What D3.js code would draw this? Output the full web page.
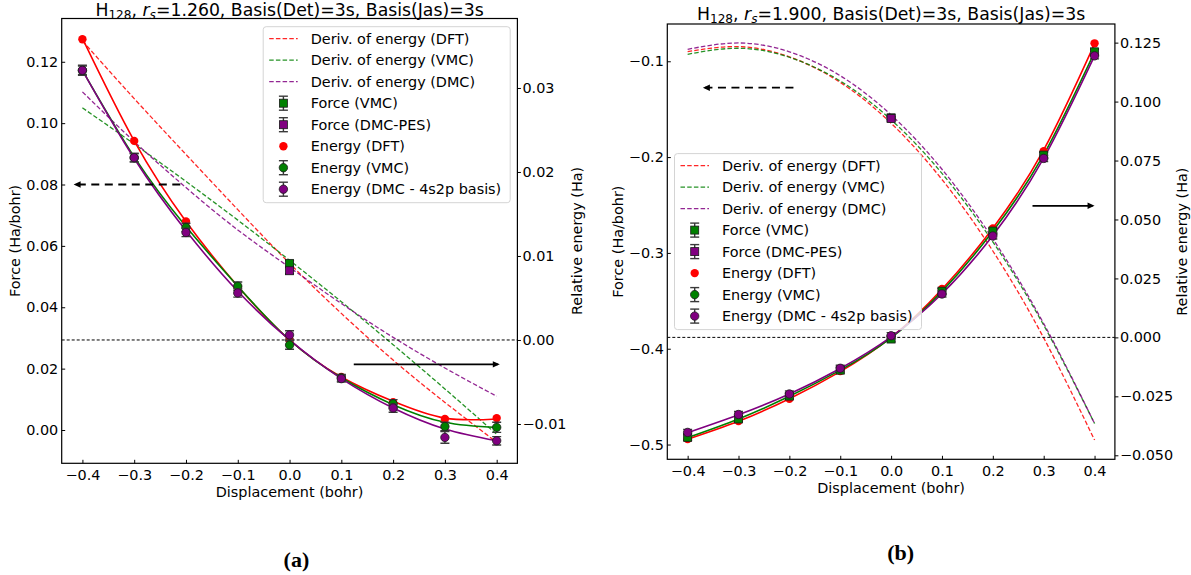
<!DOCTYPE html>
<html>
<head>
<meta charset="utf-8">
<script src="https://cdn.jsdelivr.net/npm/d3@7"></script>
<style>
  body { margin: 0; background: #fff; }
  svg { display: block; font-family: "DejaVu Sans", sans-serif; }
</style>
</head>
<body>
<svg id="fig" width="1191" height="575"></svg>
<script>
// displacement grid shared by both panels (bohr)
var displacement = [-0.4, -0.3, -0.2, -0.1, 0.0, 0.1, 0.2, 0.3, 0.4];
var xTicks = [-0.4, -0.3, -0.2, -0.1, 0.0, 0.1, 0.2, 0.3, 0.4];

var legendLabels = [
  "Deriv. of energy (DFT)", "Deriv. of energy (VMC)", "Deriv. of energy (DMC)",
  "Force (VMC)", "Force (DMC-PES)",
  "Energy (DFT)", "Energy (VMC)", "Energy (DMC - 4s2p basis)"
];

// ---- panel (a), rs = 1.260 ----
var aForceTicks = [0.00, 0.02, 0.04, 0.06, 0.08, 0.10, 0.12];
var aEnergyTicks = [-0.01, 0.00, 0.01, 0.02, 0.03];

var aEnergyDFT = [0.0358, 0.0237, 0.0141, 0.0063, 0.0000, -0.0044, -0.0074, -0.0094, -0.0093];
var aEnergyVMC = [0.0321, 0.0217, 0.0134, 0.0064, -0.0006, -0.0045, -0.0076, -0.0103, -0.0104];
var aEnergyVMCErr = [0.0005, 0.0005, 0.0005, 0.0005, 0.0005, 0.0004, 0.0005, 0.0005, 0.0006];
var aEnergyDMC = [0.0321, 0.0217, 0.0128, 0.0056, 0.0006, -0.0046, -0.0081, -0.0116, -0.0120];
var aEnergyDMCErr = [0.0006, 0.0005, 0.0005, 0.0005, 0.0005, 0.0004, 0.0005, 0.0007, 0.0005];

var aFitDFT = [0.0359, 0.0237, 0.0141, 0.0064, 0.0000, -0.0044, -0.0073, -0.0093, -0.0094];
var aFitVMC = [0.0321, 0.0218, 0.0135, 0.0064, 0.0000, -0.0045, -0.0077, -0.0098, -0.0104];
var aFitDMC = [0.0321, 0.0216, 0.0130, 0.0058, 0.0000, -0.0046, -0.0081, -0.0106, -0.0120];

var aDerivDFT = [0.1268, 0.1080, 0.0898, 0.0718, 0.0543, 0.0380, 0.0228, 0.0090, -0.0040];
var aDerivVMC = [0.1050, 0.0932, 0.0810, 0.0684, 0.0553, 0.0418, 0.0278, 0.0134, -0.0014];
var aDerivDMC = [0.1102, 0.0940, 0.0790, 0.0652, 0.0530, 0.0412, 0.0302, 0.0202, 0.0110];

var aForceX = [0.0];
var aForceVMC = [0.0543];
var aForceVMCErr = [0.0009];
var aForceDMC = [0.0519];
var aForceDMCErr = [0.0010];

// ---- panel (b), rs = 1.900 ----
var bForceTicks = [-0.5, -0.4, -0.3, -0.2, -0.1];
var bEnergyTicks = [-0.050, -0.025, 0.000, 0.025, 0.050, 0.075, 0.100, 0.125];

var bEnergyDFT = [-0.0431, -0.0355, -0.0260, -0.0143, 0.0000, 0.0205, 0.0462, 0.0790, 0.1247];
var bEnergyVMC = [-0.0424, -0.0346, -0.0249, -0.0139, -0.0007, 0.0196, 0.0451, 0.0773, 0.1211];
var bEnergyVMCErr = [0.0012, 0.0012, 0.0012, 0.0012, 0.0012, 0.0012, 0.0012, 0.0012, 0.0012];
var bEnergyDMC = [-0.0403, -0.0327, -0.0240, -0.0131, 0.0007, 0.0184, 0.0430, 0.0759, 0.1194];
var bEnergyDMCErr = [0.0013, 0.0013, 0.0013, 0.0013, 0.0013, 0.0013, 0.0013, 0.0013, 0.0013];

var bFitDFT = [-0.0432, -0.0356, -0.0260, -0.0145, 0.0000, 0.0204, 0.0463, 0.0795, 0.1245];
var bFitVMC = [-0.0425, -0.0346, -0.0250, -0.0139, -0.0002, 0.0195, 0.0450, 0.0775, 0.1210];
var bFitDMC = [-0.0404, -0.0328, -0.0240, -0.0132, 0.0002, 0.0185, 0.0432, 0.0760, 0.1194];

var bDerivDFT = [-0.0900, -0.0847, -0.0954, -0.1220, -0.1647, -0.2234, -0.2980, -0.3887, -0.4953];
var bDerivVMC = [-0.0927, -0.0864, -0.0958, -0.1206, -0.1610, -0.2170, -0.2884, -0.3754, -0.4780];
var bDerivDMC = [-0.0875, -0.0809, -0.0901, -0.1151, -0.1560, -0.2127, -0.2853, -0.3737, -0.4780];

var bForceX = [0.0];
var bForceVMC = [-0.1590];
var bForceVMCErr = [0.0012];
var bForceDMC = [-0.1597];
var bForceDMCErr = [0.0012];

var fig = d3.select("#fig");
var colors = {dft: "#ff0000", vmc: "#008000", dmc: "#800080"};
var fontSize = 14.4;

var drawMarker = function(sel, shape, cx, cy, color, edge) {
  if (shape === "square") {
    sel.append("rect")
      .attr("x", cx - 4)
      .attr("y", cy - 4)
      .attr("width", 8)
      .attr("height", 8)
      .attr("fill", color)
      .attr("stroke", edge ? "#1a1a1a" : "none")
      .attr("stroke-width", 0.8);
  } else {
    sel.append("circle")
      .attr("cx", cx)
      .attr("cy", cy)
      .attr("r", 4.2)
      .attr("fill", color)
      .attr("stroke", edge ? "#1a1a1a" : "none")
      .attr("stroke-width", 0.8);
  }
};

var drawErrorBar = function(sel, cx, y0, y1) {
  var eb = sel.append("g")
    .attr("stroke", "#3a3a3a")
    .attr("stroke-width", 1.4);
  eb.append("line").attr("x1", cx).attr("x2", cx).attr("y1", y0).attr("y2", y1);
  eb.append("line").attr("x1", cx - 4.5).attr("x2", cx + 4.5).attr("y1", y0).attr("y2", y0);
  eb.append("line").attr("x1", cx - 4.5).attr("x2", cx + 4.5).attr("y1", y1).attr("y2", y1);
};

var drawArrow = function(sel, x0, x1, y, dashed) {
  var dir = x1 > x0 ? 1 : -1;
  sel.append("line")
    .attr("x1", x0)
    .attr("x2", x1 - dir * 2)
    .attr("y1", y)
    .attr("y2", y)
    .attr("stroke", "#000")
    .attr("stroke-width", 1.8)
    .attr("stroke-dasharray", dashed ? "8,5.5" : null);
  sel.append("path")
    .attr("d", "M" + x1 + "," + y + "L" + (x1 - dir * 7) + "," + (y - 3.2) + "L" + (x1 - dir * 7) + "," + (y + 3.2) + "Z")
    .attr("fill", "#000");
};

var drawPanel = function(sett) {
  var b = sett.box,
    g = fig.append("g").attr("class", "panel panel-" + sett.id),
    x = d3.scaleLinear().domain([-0.44, 0.44]).range([b.left, b.right]),
    yF = d3.scaleLinear().domain(sett.forceDomain).range([b.bottom, b.top]),
    yE = d3.scaleLinear().domain(sett.energyDomain).range([b.bottom, b.top]),
    clipId = "clip-" + sett.id,
    plot, derivLine, fitLine, legend, entries;

  g.append("clipPath")
    .attr("id", clipId)
    .append("rect")
      .attr("x", b.left)
      .attr("y", b.top)
      .attr("width", b.right - b.left)
      .attr("height", b.bottom - b.top);

  plot = g.append("g").attr("clip-path", "url(#" + clipId + ")");

  // force axis: derivatives of the fitted energies
  derivLine = d3.line()
    .x(function(d, i) { return x(displacement[i]); })
    .y(function(d) { return yF(d); })
    .curve(d3.curveNatural);

  sett.deriv.forEach(function(s) {
    plot.append("path")
      .attr("d", derivLine(s.values))
      .attr("fill", "none")
      .attr("stroke", s.color)
      .attr("stroke-opacity", 0.85)
      .attr("stroke-width", 1.3)
      .attr("stroke-dasharray", "4.5,2.2");
  });

  sett.force.forEach(function(s) {
    s.values.forEach(function(v, i) {
      var cx = x(s.x[i]);
      drawErrorBar(plot, cx, yF(v - s.err[i]), yF(v + s.err[i]));
      drawMarker(plot, "square", cx, yF(v), s.color, true);
    });
  });

  drawArrow(g, x(sett.arrowLeft.from), x(sett.arrowLeft.to), yF(sett.arrowLeft.y), true);

  // energy axis: zero line, fits, points
  plot.append("line")
    .attr("x1", b.left)
    .attr("x2", b.right)
    .attr("y1", yE(0))
    .attr("y2", yE(0))
    .attr("stroke", "#000")
    .attr("stroke-width", 1)
    .attr("stroke-dasharray", "3,2");

  fitLine = d3.line()
    .x(function(d, i) { return x(displacement[i]); })
    .y(function(d) { return yE(d); })
    .curve(d3.curveNatural);

  sett.fits.forEach(function(s) {
    plot.append("path")
      .attr("d", fitLine(s.values))
      .attr("fill", "none")
      .attr("stroke", s.color)
      .attr("stroke-width", 1.6);
  });

  sett.energy.forEach(function(s) {
    s.values.forEach(function(v, i) {
      var cx = x(displacement[i]);
      if (s.err) {
        drawErrorBar(plot, cx, yE(v - s.err[i]), yE(v + s.err[i]));
      }
      drawMarker(plot, s.shape, cx, yE(v), s.color, !!s.err);
    });
  });

  drawArrow(g, x(sett.arrowRight.from), x(sett.arrowRight.to), yE(sett.arrowRight.y), false);

  // axes
  g.append("g")
    .attr("transform", "translate(" + b.left + ",0)")
    .call(d3.axisLeft(yF)
      .tickValues(sett.forceTicks)
      .tickFormat(d3.format(sett.forceFormat))
      .tickSizeInner(-3.5)
      .tickSizeOuter(0)
      .tickPadding(3.5))
    .attr("font-size", fontSize)
    .attr("font-family", "DejaVu Sans")
    .call(function(a) { a.select(".domain").remove(); });

  g.append("g")
    .attr("transform", "translate(" + b.right + ",0)")
    .call(d3.axisRight(yE)
      .tickValues(sett.energyTicks)
      .tickFormat(d3.format(sett.energyFormat))
      .tickSizeInner(3.5)
      .tickSizeOuter(0)
      .tickPadding(1.5))
    .attr("font-size", fontSize)
    .attr("font-family", "DejaVu Sans")
    .call(function(a) { a.select(".domain").remove(); });

  g.append("g")
    .attr("transform", "translate(0," + b.bottom + ")")
    .call(d3.axisBottom(x)
      .tickValues(xTicks)
      .tickFormat(d3.format(".1f"))
      .tickSizeInner(-3.5)
      .tickSizeOuter(0)
      .tickPadding(6))
    .attr("font-size", fontSize)
    .attr("font-family", "DejaVu Sans")
    .call(function(a) { a.select(".domain").remove(); });

  g.append("rect")
    .attr("x", b.left)
    .attr("y", b.top)
    .attr("width", b.right - b.left)
    .attr("height", b.bottom - b.top)
    .attr("fill", "none")
    .attr("stroke", "#000")
    .attr("stroke-width", 1.2);

  // labels
  g.append("text")
    .attr("x", (b.left + b.right) / 2)
    .attr("y", sett.xLabelY)
    .attr("dy", "0.35em")
    .attr("text-anchor", "middle")
    .attr("font-size", fontSize)
    .text("Displacement (bohr)");

  g.append("text")
    .attr("transform", "translate(" + sett.forceLabelX + "," + (b.top + b.bottom) / 2 + ") rotate(-90)")
    .attr("dy", "0.35em")
    .attr("text-anchor", "middle")
    .attr("font-size", fontSize)
    .text("Force (Ha/bohr)");

  g.append("text")
    .attr("transform", "translate(" + sett.energyLabelX + "," + (b.top + b.bottom) / 2 + ") rotate(-90)")
    .attr("dy", "0.35em")
    .attr("text-anchor", "middle")
    .attr("font-size", fontSize)
    .text("Relative energy (Ha)");

  var title = g.append("text")
    .attr("x", (b.left + b.right) / 2)
    .attr("y", sett.titleY)
    .attr("text-anchor", "middle")
    .attr("font-size", 17.3);
  title.append("tspan").text("H");
  title.append("tspan").attr("font-size", 12.1).attr("dy", 3.6).text("128");
  title.append("tspan").attr("dy", -3.6).text(", ");
  title.append("tspan").attr("font-style", "italic").text("r");
  title.append("tspan").attr("font-style", "italic").attr("font-size", 12.1).attr("dy", 3.6).text("s");
  title.append("tspan").attr("dy", -3.6).text("=" + sett.rs + ", Basis(Det)=3s, Basis(Jas)=3s");

  g.append("text")
    .attr("x", sett.tag.x)
    .attr("y", sett.tag.y)
    .attr("dy", "0.35em")
    .attr("text-anchor", "middle")
    .attr("font-family", "Liberation Serif, serif")
    .attr("font-weight", "bold")
    .attr("font-size", 22)
    .text(sett.tag.text);

  // legend
  legend = g.append("g")
    .attr("transform", "translate(" + sett.legend.x + "," + sett.legend.y + ")");

  legend.append("rect")
    .attr("width", 247)
    .attr("height", 176)
    .attr("rx", 3)
    .attr("fill", "#fff")
    .attr("fill-opacity", 0.8)
    .attr("stroke", "#d4d4d4")
    .attr("stroke-width", 1);

  entries = [
    {type: "dash", color: colors.dft}, {type: "dash", color: colors.vmc}, {type: "dash", color: colors.dmc},
    {type: "err", shape: "square", color: colors.vmc}, {type: "err", shape: "square", color: colors.dmc},
    {type: "dot", shape: "circle", color: colors.dft},
    {type: "err", shape: "circle", color: colors.vmc}, {type: "err", shape: "circle", color: colors.dmc}
  ];

  entries.forEach(function(e, i) {
    var cy = 12 + i * 21.5;
    if (e.type === "dash") {
      legend.append("line")
        .attr("x1", 6)
        .attr("x2", 34.5)
        .attr("y1", cy)
        .attr("y2", cy)
        .attr("stroke", e.color)
        .attr("stroke-opacity", 0.85)
        .attr("stroke-width", 1.3)
        .attr("stroke-dasharray", "4.5,2.2");
    } else {
      if (e.type === "err") {
        drawErrorBar(legend, 20.2, cy - 7, cy + 7);
      }
      drawMarker(legend, e.shape, 20.2, cy, e.color, e.type === "err");
    }
    legend.append("text")
      .attr("x", 47.5)
      .attr("y", cy)
      .attr("dy", "0.35em")
      .attr("font-size", fontSize)
      .text(legendLabels[i]);
  });
};

drawPanel({
  id: "a",
  rs: "1.260",
  box: {left: 61.7, right: 517.4, top: 18.5, bottom: 463.3},
  forceDomain: [-0.01085, 0.1341],
  energyDomain: [-0.01468, 0.03827],
  forceTicks: aForceTicks,
  forceFormat: ".2f",
  energyTicks: aEnergyTicks,
  energyFormat: ".2f",
  deriv: [
    {values: aDerivDFT, color: colors.dft},
    {values: aDerivVMC, color: colors.vmc},
    {values: aDerivDMC, color: colors.dmc}
  ],
  fits: [
    {values: aFitDFT, color: colors.dft},
    {values: aFitVMC, color: colors.vmc},
    {values: aFitDMC, color: colors.dmc}
  ],
  energy: [
    {values: aEnergyDFT, err: null, color: colors.dft, shape: "circle"},
    {values: aEnergyVMC, err: aEnergyVMCErr, color: colors.vmc, shape: "circle"},
    {values: aEnergyDMC, err: aEnergyDMCErr, color: colors.dmc, shape: "circle"}
  ],
  force: [
    {x: aForceX, values: aForceVMC, err: aForceVMCErr, color: colors.vmc},
    {x: aForceX, values: aForceDMC, err: aForceDMCErr, color: colors.dmc}
  ],
  arrowLeft: {from: -0.211, to: -0.417, y: 0.08},
  arrowRight: {from: 0.124, to: 0.406, y: -0.0029},
  legend: {x: 263.2, y: 26.7},
  titleY: 15.5,
  xLabelY: 491.7,
  forceLabelX: 15.2,
  energyLabelX: 577,
  tag: {text: "(a)", x: 296.4, y: 559}
});

drawPanel({
  id: "b",
  rs: "1.900",
  box: {left: 667.3, right: 1114.9, top: 24, bottom: 459.3},
  forceDomain: [-0.5154, -0.0611],
  energyDomain: [-0.0517, 0.1329],
  forceTicks: bForceTicks,
  forceFormat: ".1f",
  energyTicks: bEnergyTicks,
  energyFormat: ".3f",
  deriv: [
    {values: bDerivDFT, color: colors.dft},
    {values: bDerivVMC, color: colors.vmc},
    {values: bDerivDMC, color: colors.dmc}
  ],
  fits: [
    {values: bFitDFT, color: colors.dft},
    {values: bFitVMC, color: colors.vmc},
    {values: bFitDMC, color: colors.dmc}
  ],
  energy: [
    {values: bEnergyDFT, err: null, color: colors.dft, shape: "circle"},
    {values: bEnergyVMC, err: bEnergyVMCErr, color: colors.vmc, shape: "square"},
    {values: bEnergyDMC, err: bEnergyDMCErr, color: colors.dmc, shape: "circle"}
  ],
  force: [
    {x: bForceX, values: bForceVMC, err: bForceVMCErr, color: colors.vmc},
    {x: bForceX, values: bForceDMC, err: bForceDMCErr, color: colors.dmc}
  ],
  arrowLeft: {from: -0.192, to: -0.370, y: -0.1276},
  arrowRight: {from: 0.278, to: 0.400, y: 0.0558},
  legend: {x: 674.5, y: 153.6},
  titleY: 19.5,
  xLabelY: 487.7,
  forceLabelX: 618,
  energyLabelX: 1181.7,
  tag: {text: "(b)", x: 900.6, y: 552}
});
</script>
</body>
</html>
